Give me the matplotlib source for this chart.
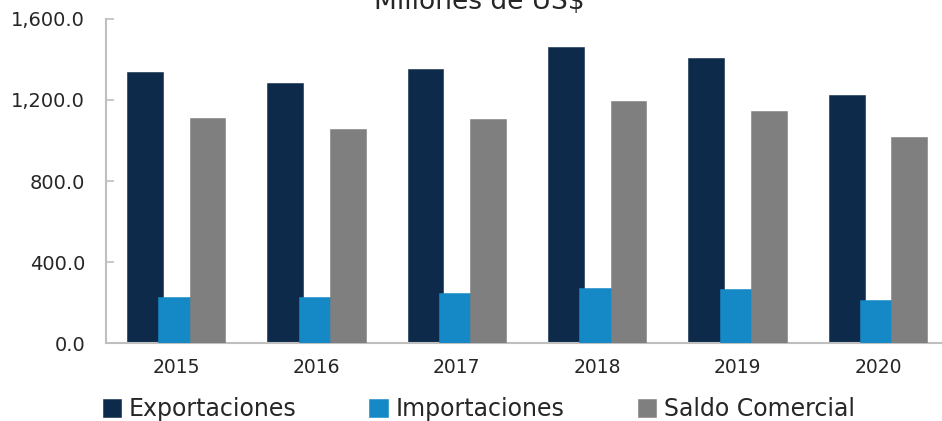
import numpy as np
import matplotlib.pyplot as plt
from matplotlib.ticker import FuncFormatter

plt.rcParams['font.family'] = ['DejaVu Sans']

# ---------- datos (millones de US$) ----------
anios = ['2015', '2016', '2017', '2018', '2019', '2020']
exportaciones = [1337, 1282, 1353, 1463, 1409, 1223]
importaciones = [230, 227, 248, 270, 269, 212]
saldo = [1111, 1057, 1108, 1196, 1146, 1015]

series = ['Exportaciones', 'Importaciones', 'Saldo Comercial']
colores = ['#0d2a4a', '#1589c6', '#7f7f7f']

# ---------- figura ----------
fig = plt.figure(figsize=(9.42, 4.21), dpi=100)
ax = fig.add_axes([0.1125, 0.185, 0.894, 0.77])

x = np.arange(len(anios))
ancho = 0.255
desp = 0.223
for i, (vals, col, nom) in enumerate(zip([exportaciones, importaciones, saldo], colores, series)):
    ax.bar(x + (i - 1) * desp, vals, width=ancho, color=col, label=nom,
           edgecolor=col, linewidth=0.4, zorder=2 + i)

ax.set_xlim(-0.5, len(anios) - 0.5)
ax.set_ylim(0, 1600)
ax.set_yticks([0, 400, 800, 1200, 1600])
ax.yaxis.set_major_formatter(FuncFormatter(lambda v, p: f'{v:,.1f}'))
ax.set_xticks(x)
ax.set_xticklabels(anios)

for s in ['top', 'right']:
    ax.spines[s].set_visible(False)
for s in ['left', 'bottom']:
    ax.spines[s].set_color('#bfbfbf')
    ax.spines[s].set_linewidth(1.5)
ax.tick_params(axis='y', direction='in', length=6, width=1.2, color='#bfbfbf',
               labelsize=14, labelcolor='#262626', pad=15)
ax.tick_params(axis='x', length=0, labelsize=13.5, labelcolor='#262626', pad=11)

# titulo recortado arriba, como en el original
fig.text(0.509, 0.978, 'Millones de US$', ha='center', va='baseline',
         fontsize=19, color='#262626')

fig.legend(loc='center', bbox_to_anchor=(0.508, 0.028), ncol=3, frameon=False,
           fontsize=17, handlelength=0.8, handleheight=0.8, handletextpad=0.3,
           columnspacing=3.1, labelcolor='#262626')

fig.savefig('out.png', dpi=100)
